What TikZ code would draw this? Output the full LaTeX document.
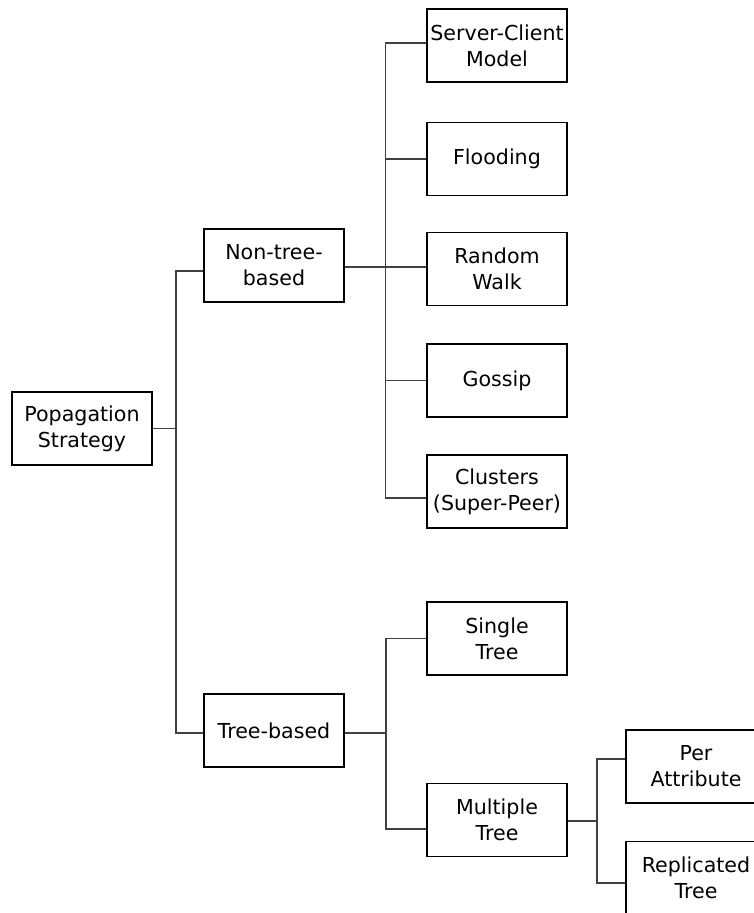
\documentclass[tikz,border=0pt]{standalone}
\usepackage{fontspec}
\setmainfont{DejaVu Sans}
\begin{document}
\begin{tikzpicture}[x=1pt,y=-1pt,
  box/.style={draw=black, line width=1.8pt, minimum width=140pt, minimum height=73pt,
    inner sep=0pt, align=center, font=\fontsize{20.6pt}{26pt}\selectfont},
  link/.style={draw=black!75, line width=1.2pt}]
\useasboundingbox (0,0) rectangle (754,913);
\clip (0,0) rectangle (754,913);

% level 0 and 1
\node[box] (root) at (82,428.5) {Popagation\\Strategy};
\node[box] (ntb) at (274,265.5) {Non-tree-\\based};
\node[box] (tb) at (274,730.5) {Tree-based};

% non-tree-based strategies
\node[box] (sc) at (497,45.5) {Server-Client\\Model};
\node[box] (fl) at (497,159) {Flooding};
\node[box] (rw) at (497,269) {Random\\Walk};
\node[box] (go) at (497,380.5) {Gossip};
\node[box] (cl) at (497,491.5) {Clusters\\(Super-Peer)};

% tree-based strategies
\node[box] (st) at (497,638.5) {Single\\Tree};
\node[box] (mt) at (497,820) {Multiple\\Tree};
\node[box] (pa) at (696,766.5) {Per\\Attribute};
\node[box] (rt) at (696,878) {Replicated\\Tree};

% junction points of the elbow connectors
\coordinate (j1) at (176,428.5);
\coordinate (j2) at (385.5,267);
\coordinate (j3) at (386,733);
\coordinate (j4) at (597,821);

% root -> two families
\draw[link] (root.east) -- (j1);
\draw[link] ([yshift=-5.5pt]ntb.west) -| (j1) |- ([yshift=-2.5pt]tb.west);

% non-tree-based branch
\draw[link] ([yshift=-1.5pt]ntb.east) -- (j2);
\draw[link] ([yshift=2.5pt]sc.west) -| (j2) |- ([yshift=-6.5pt]cl.west);
\draw[link] (j2 |- fl.west) -- (fl.west);
\draw[link] (j2) -- (j2 -| rw.west);
\draw[link] (j2 |- go.west) -- (go.west);

% tree-based branch
\draw[link] ([yshift=-2.5pt]tb.east) -- (j3);
\draw[link] (st.west) -| (j3) |- ([yshift=-9pt]mt.west);

% multiple-tree branch
\draw[link] ([yshift=-1pt]mt.east) -- (j4);
\draw[link] ([yshift=7.5pt]pa.west) -| (j4) |- ([yshift=-5pt]rt.west);
\end{tikzpicture}
\end{document}
